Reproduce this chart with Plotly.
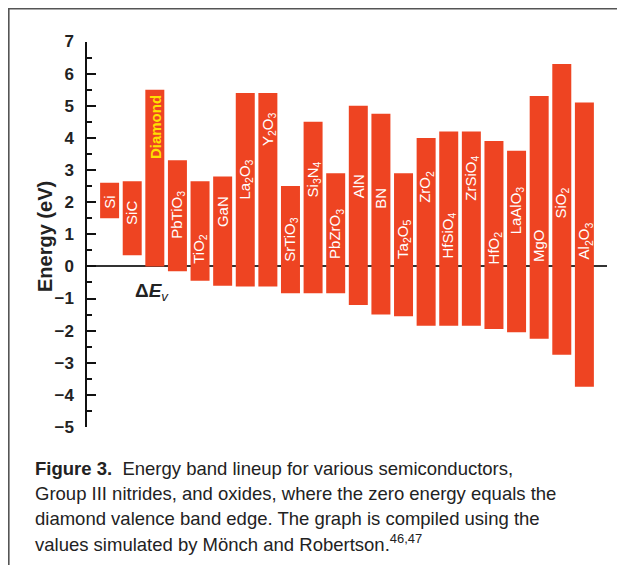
import plotly.graph_objects as go

# ---- data ----
materials = ["Si", "SiC", "Diamond", "PbTiO<sub>3</sub>", "TiO<sub>2</sub>", "GaN",
             "La<sub>2</sub>O<sub>3</sub>", "Y<sub>2</sub>O<sub>3</sub>", "SrTiO<sub>3</sub>",
             "Si<sub>3</sub>N<sub>4</sub>", "PbZrO<sub>3</sub>", "AlN", "BN",
             "Ta<sub>2</sub>O<sub>5</sub>", "ZrO<sub>2</sub>", "HfSiO<sub>4</sub>",
             "ZrSiO<sub>4</sub>", "HfO<sub>2</sub>", "LaAlO<sub>3</sub>", "MgO",
             "SiO<sub>2</sub>", "Al<sub>2</sub>O<sub>3</sub>"]
conduction_band = [2.6, 2.65, 5.5, 3.3, 2.65, 2.8, 5.4, 5.4, 2.5, 4.5, 2.9, 5.0, 4.75,
                   2.9, 4.0, 4.2, 4.2, 3.9, 3.6, 5.3, 6.3, 5.1]
valence_band = [1.5, 0.35, 0.0, -0.15, -0.45, -0.6, -0.63, -0.63, -0.84, -0.84, -0.84,
                -1.2, -1.5, -1.55, -1.85, -1.85, -1.85, -1.95, -2.05, -2.25, -2.75, -3.75]
label_y = [2.0, 1.67, 4.33, 1.62, 0.55, 1.71, 2.71, 4.27, 0.84, 2.71, 1.0, 2.5, 2.13,
           0.84, 2.48, 0.95, 2.74, 0.59, 1.73, 0.64, 1.98, 0.79]
y_ticks = [-5, -4, -3, -2, -1, 0, 1, 2, 3, 4, 5, 6, 7]

OFF = 8  # page body margin
W, H = 625 - OFF, 565 - OFF
BAR = "#EE4422"
FONT = "Liberation Sans, Arial, sans-serif"


def px(x):
    return (x - OFF) / W


def py(y):
    return 1 - (y - OFF) / H


x_idx = list(range(len(materials)))
heights = [c - v for c, v in zip(conduction_band, valence_band)]

fig = go.Figure()
fig.add_trace(go.Bar(x=x_idx, y=heights, base=valence_band, width=0.84,
                     marker=dict(color=BAR, line=dict(width=0)),
                     hoverinfo="skip", showlegend=False))

for i, (name, ly) in enumerate(zip(materials, label_y)):
    if name == "Diamond":
        txt = "<b>Diamond</b>"
        col = "#FFE000"
    else:
        txt = name
        col = "white"
    fig.add_annotation(x=i, y=ly, xref="x", yref="y", text=txt, textangle=-90,
                       xanchor="center", yanchor="middle",
                       showarrow=False, font=dict(family=FONT, size=15, color=col))

fig.add_annotation(x=px(152), y=py(292), xref="paper", yref="paper",
                   xanchor="center", yanchor="middle",
                   text="<b>Δ<i>E</i></b><sub><i>v</i></sub>", showarrow=False,
                   font=dict(family=FONT, size=19, color="#222"))

fig.add_annotation(x=px(45), y=py(237), xref="paper", yref="paper",
                   xanchor="center", yanchor="middle",
                   text="<b>Energy (eV)</b>", textangle=-90, showarrow=False,
                   font=dict(family=FONT, size=20, color="#222"))

caption = ["<b>Figure 3.</b>  Energy band lineup for various semiconductors,",
           "Group III nitrides, and oxides, where the zero energy equals the",
           "diamond valence band edge. The graph is compiled using the",
           "values simulated by Mönch and Robertson.<sup>46,47</sup>"]
for k, line in enumerate(caption):
    fig.add_annotation(x=px(33), y=py(468 + 25 * k), xref="paper", yref="paper",
                       xanchor="left", yanchor="middle", text=line, showarrow=False,
                       font=dict(family=FONT, size=18.5, color="#222"))

# frame (left and top edges)
fig.add_shape(type="line", xref="paper", yref="paper", x0=0.001, x1=0.001,
              y0=0, y1=1, line=dict(color="#555", width=2))
fig.add_shape(type="line", xref="paper", yref="paper", x0=0, x1=1,
              y0=0.999, y1=0.999, line=dict(color="#555", width=2))

fig.update_layout(
    width=W, height=H, margin=dict(l=0, r=0, t=0, b=0, autoexpand=False),
    paper_bgcolor="white", plot_bgcolor="white", bargap=0.16,
    xaxis=dict(domain=[px(87), px(607)], range=[-1, 22], visible=False,
               automargin=False),
    yaxis=dict(domain=[py(427), py(41.5)], range=[-5, 7], tickvals=y_ticks,
               automargin=False,
               showgrid=False, zeroline=True, zerolinecolor="#333", zerolinewidth=1.5,
               showline=True, linecolor="#111", linewidth=1.5,
               ticks="inside", ticklen=9, tickwidth=1.5, tickcolor="#111",
               minor=dict(dtick=0.5, ticks="inside", ticklen=5, tickwidth=1.5,
                          tickcolor="#111", showgrid=False),
               tickfont=dict(family=FONT, size=17, color="#222", weight="bold"),
               ticklabelstandoff=8, layer="above traces"),
)

fig.write_html("out.html")
